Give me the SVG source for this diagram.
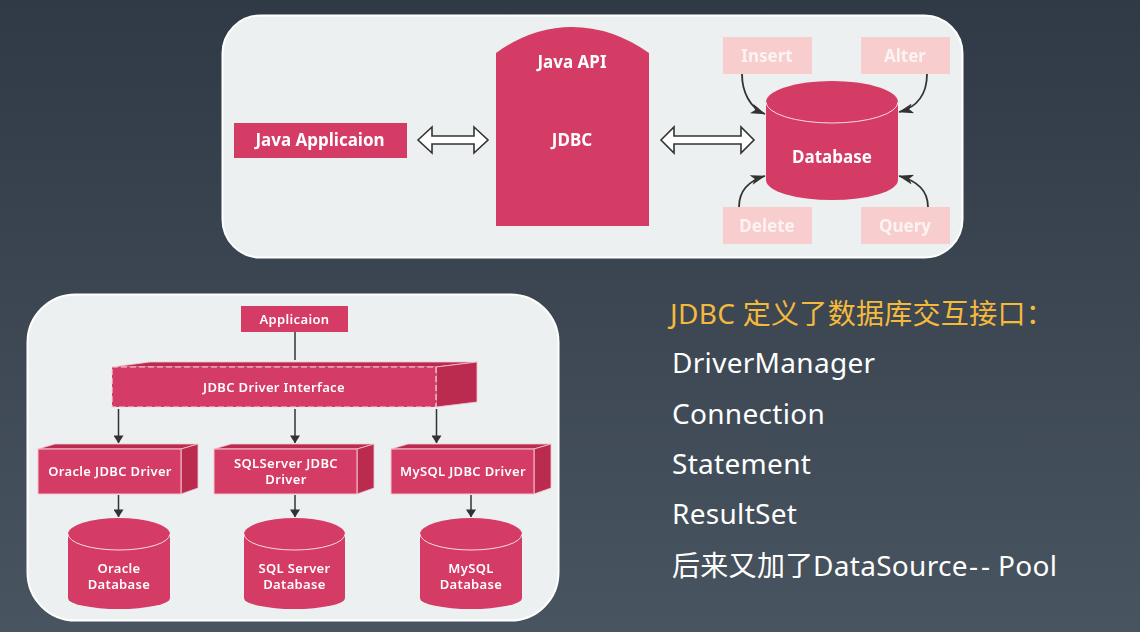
<svg xmlns="http://www.w3.org/2000/svg" width="1140" height="632" viewBox="0 0 1140 632">
<defs>
<linearGradient id="bg" x1="0" y1="0" x2="0" y2="1"><stop offset="0" stop-color="#303a46"/><stop offset="1" stop-color="#48545f"/></linearGradient>
<filter id="soft" x="-5%" y="-5%" width="110%" height="110%"><feGaussianBlur stdDeviation="0.5"/></filter>
<marker id="ah" viewBox="0 0 10 10" refX="9.5" refY="5" markerWidth="8" markerHeight="10" markerUnits="userSpaceOnUse" orient="auto" preserveAspectRatio="none"><path d="M0 0L10 5L0 10Z" fill="#333"/></marker>
<marker id="ac" viewBox="0 0 12 10" refX="11.5" refY="5" markerWidth="15" markerHeight="10" markerUnits="userSpaceOnUse" orient="auto" preserveAspectRatio="none"><path d="M0 0L12 5L0 10L3 5Z" fill="#333"/></marker>
</defs>
<style>
.panel{fill:#ecf0f1;stroke:#fff;stroke-width:2}
.r{fill:#d43a65}
.rs{fill:#d43a65;stroke:#f4c6d2;stroke-width:1}
.d{fill:#bb2a4f;stroke:#f4c6d2;stroke-width:.8}
.p{fill:#f8cdcd}
.t{font-family:"Noto Sans","Open Sans",sans-serif;font-weight:700;fill:#fff;text-anchor:middle}
.t1{font-size:17px}
.t2{font-size:13px;font-weight:600;letter-spacing:.35px}
.pt{fill:#fdf3f3}
.l{fill:none;stroke:#333;stroke-width:1.5}
.c{fill:none;stroke:#333;stroke-width:1.8}
.dbl{fill:#fff;stroke:#333;stroke-width:1.6}
.m{font-family:"Noto Sans","Noto Sans CJK SC",sans-serif;font-size:28px;fill:#fff;letter-spacing:.3px}
.cap{fill:none;stroke:#f8dce4;stroke-width:1}
</style>
<rect width="1140" height="632" fill="url(#bg)"/>
<g filter="url(#soft)">
<g id="panel-top"><rect class="panel" x="222.500" y="15.500" width="740" height="242" rx="38"/></g>
<g id="panel-bottom"><rect class="panel" x="27.500" y="294.500" width="531" height="326" rx="48"/></g>
<g id="java-app"><rect class="r" x="234" y="123" width="173" height="35"/><text class="t t1" x="320" y="146">Java Applicaion</text></g>
<g id="jdbc"><path class="r" d="M496 53Q532 27 572 27Q612 27 649 53V226H496Z"/><text class="t t1" x="572" y="68">Java API</text><text class="t t1" x="572" y="146">JDBC</text></g>
<g id="insert"><rect class="p" x="723" y="37" width="89" height="37"/><text class="t t1 pt" x="767" y="62">Insert</text></g>
<g id="alter"><rect class="p" x="861" y="37" width="89" height="37"/><text class="t t1 pt" x="905" y="62">Alter</text></g>
<g id="delete"><rect class="p" x="723" y="207" width="89" height="37"/><text class="t t1 pt" x="767" y="232">Delete</text></g>
<g id="query"><rect class="p" x="861" y="207" width="89" height="37"/><text class="t t1 pt" x="905" y="232">Query</text></g>
<g id="database"><path class="r" d="M766 102A66 21 0 0 1 898 102V180A66 20 0 0 1 766 180Z"/><path class="cap" d="M766 102A66 21 0 0 0 898 102"/><text class="t t1" x="832" y="163">Database</text></g>
<g id="application"><rect class="r" x="241" y="306" width="107" height="26"/><text class="t t2" x="294.500" y="324">Applicaion</text></g>
<g id="driver-interface"><path class="d" d="M112 367L150 362H477L436 367Z"/><path class="d" d="M436 367L477 362V402L436 407Z"/><rect class="r" x="112" y="367" width="324" height="40" stroke="#f6d4de" stroke-width="1.2" stroke-dasharray="6 3"/><text class="t t2" x="274" y="392">JDBC Driver Interface</text></g>
<g id="oracle-driver"><path class="d" d="M38 449L55 444H198L181 449Z"/><path class="d" d="M181 449L198 444V488L181 494Z"/><rect class="rs" x="38" y="449" width="143" height="45"/><text class="t t2" x="110" y="476">Oracle JDBC Driver</text></g>
<g id="sqlserver-driver"><path class="d" d="M214 449L231 444H374L357 449Z"/><path class="d" d="M357 449L374 444V488L357 494Z"/><rect class="rs" x="214" y="449" width="143" height="45"/><text class="t t2" x="286" y="468">SQLServer JDBC</text><text class="t t2" x="286" y="484">Driver</text></g>
<g id="mysql-driver"><path class="d" d="M391 449L408 444H551L534 449Z"/><path class="d" d="M534 449L551 444V488L534 494Z"/><rect class="rs" x="391" y="449" width="143" height="45"/><text class="t t2" x="463" y="476">MySQL JDBC Driver</text></g>
<g id="oracle-db"><path class="r" d="M68 534A51 16 0 0 1 170 534V598A51 11 0 0 1 68 598Z"/><path class="cap" d="M68 534A51 16 0 0 0 170 534"/><text class="t t2" x="119" y="573">Oracle</text><text class="t t2" x="119" y="589">Database</text></g>
<g id="sqlserver-db"><path class="r" d="M244 534A50.500 16 0 0 1 345 534V598A50.500 11 0 0 1 244 598Z"/><path class="cap" d="M244 534A50.500 16 0 0 0 345 534"/><text class="t t2" x="294.500" y="573">SQL Server</text><text class="t t2" x="294.500" y="589">Database</text></g>
<g id="mysql-db"><path class="r" d="M420 534A51 16 0 0 1 522 534V598A51 11 0 0 1 420 598Z"/><path class="cap" d="M420 534A51 16 0 0 0 522 534"/><text class="t t2" x="471" y="573">MySQL</text><text class="t t2" x="471" y="589">Database</text></g>
<g id="connectors">
<path class="dbl" d="M418 140L432 127V136H474V127L488 140L474 153V144H432V153Z"/>
<path class="dbl" d="M661 140L674 127V136H741V127L754 140L741 153V144H674V153Z"/>
<path class="c" marker-end="url(#ac)" d="M742 74C742 92 750 108 765 114"/>
<path class="c" marker-end="url(#ac)" d="M927 74C927 93 918 107 899 112"/>
<path class="c" marker-end="url(#ac)" d="M739 207C739 192 748 181 765 176"/>
<path class="c" marker-end="url(#ac)" d="M928 207C928 192 918 181 899 176"/>
<path class="l" d="M295 332V360"/>
<path class="l" marker-end="url(#ah)" d="M118.500 409V443"/>
<path class="l" marker-end="url(#ah)" d="M295 409V443"/>
<path class="l" marker-end="url(#ah)" d="M436.500 409V443"/>
<path class="l" marker-end="url(#ah)" d="M118.500 495V517"/>
<path class="l" marker-end="url(#ah)" d="M295 495V517"/>
<path class="l" marker-end="url(#ah)" d="M471 495V517"/>
</g>
</g>
<g id="notes">
<text class="m" x="670" y="324" style="fill:#f5b93c">JDBC 定义了数据库交互接口：</text>
<text class="m" x="672" y="373">DriverManager</text>
<text class="m" x="672" y="424">Connection</text>
<text class="m" x="672" y="474">Statement</text>
<text class="m" x="672" y="524">ResultSet</text>
<text class="m" x="672" y="576">后来又加了<tspan x="813">DataSource</tspan><tspan x="969" style="letter-spacing:3px">--</tspan><tspan x="998">Pool</tspan></text>
</g>
</svg>
